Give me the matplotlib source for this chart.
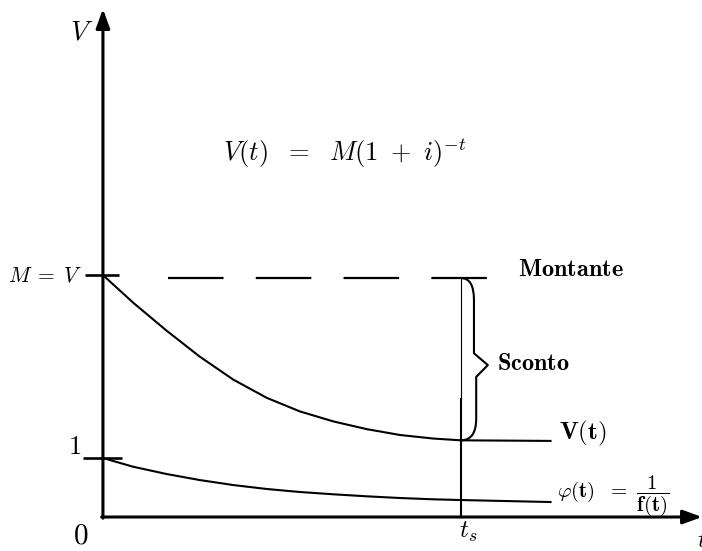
import matplotlib
matplotlib.use("Agg")
import matplotlib.pyplot as plt
from matplotlib.path import Path
from matplotlib.patches import PathPatch

plt.rcParams["mathtext.fontset"] = "cm"
plt.rcParams["font.family"] = ["DejaVu Serif"]

# Present value curve V(t) = M(1+i)^-t, sketched between t = 0 and the end of the plot
t_v = [0.0, 0.68, 1.42, 2.16, 2.91, 3.66, 4.40, 5.15, 5.89, 6.64, 7.38, 8.0, 10.0]
v_vals = [4.10, 3.63, 3.16, 2.72, 2.33, 2.02, 1.79, 1.62, 1.49, 1.39, 1.33, 1.30, 1.29]

# Discount factor phi(t) = 1 / f(t), starting from 1
t_phi = [0.0, 0.67, 1.42, 2.16, 2.91, 3.66, 4.40, 5.15, 5.89, 6.64, 7.38, 8.0, 10.0]
phi_vals = [1.0, 0.853, 0.729, 0.627, 0.542, 0.475, 0.424, 0.385, 0.351, 0.322, 0.300, 0.288, 0.254]

M_value = 4.10          # face value (Montante)
t_s = 8.0               # settlement time
dash_span = (1.45, 8.67)
x_max, y_max = 13.385, 8.61

fig = plt.figure(figsize=(7.02, 5.51), dpi=100)
ax = fig.add_axes([0, 0, 1, 1])
ax.set_xlim(-2.30, 13.385)
ax.set_ylim(-0.576, 8.763)
ax.axis("off")

# axes with arrow heads
arrow = dict(arrowstyle="-|>,head_length=1.15,head_width=0.42", lw=2.2,
             color="black", shrinkA=0, shrinkB=0, mutation_scale=10)
ax.annotate("", xy=(0, y_max), xytext=(0, -0.02), arrowprops=arrow)
ax.annotate("", xy=(x_max, 0), xytext=(-0.03, 0), arrowprops=arrow)

# ticks on the vertical axis
ax.plot([-0.40, 0.36], [M_value, M_value], color="black", lw=1.9, solid_capstyle="butt")
ax.plot([-0.45, 0.42], [1, 1], color="black", lw=1.9, solid_capstyle="butt")

# dashed level of the face value
ax.plot(dash_span, [M_value - 0.05, M_value - 0.05], color="black", lw=1.6,
        dashes=(25, 14.5), solid_capstyle="butt", dash_capstyle="butt")

# curves
ax.plot(t_v, v_vals, color="black", lw=1.5, solid_joinstyle="round")
ax.plot(t_phi, phi_vals, color="black", lw=1.5, solid_joinstyle="round")

# vertical line at t_s
v_at_ts = v_vals[t_v.index(t_s)]
ax.plot([t_s, t_s], [M_value - 0.05, 2.0], color="black", lw=0.8)
ax.plot([t_s, t_s], [2.0, 0], color="black", lw=1.5)

# curly brace for the discount
yt, yb = M_value - 0.05, v_at_ts
ym = (yt + yb) / 2 - 0.1
a, w, c, d = 0.29, 0.60, 0.37, 0.2
verts = [(t_s, yt), (t_s + a, yt), (t_s + a, yt - c),
         (t_s + a, ym + d), (t_s + w, ym), (t_s + a + 0.05, ym - d),
         (t_s + a + 0.05, yb + c), (t_s + a + 0.05, yb), (t_s, yb)]
codes = [Path.MOVETO, Path.CURVE3, Path.CURVE3,
         Path.LINETO, Path.LINETO, Path.LINETO,
         Path.LINETO, Path.CURVE3, Path.CURVE3]
ax.add_patch(PathPatch(Path(verts, codes), fill=False, lw=1.5, color="black",
                       joinstyle="round"))

# labels
ax.text(-0.47, 8.22, r"$V$", fontsize=20, ha="center", va="center")
ax.text(-0.46, M_value, r"$M\;=\;V$", fontsize=15.5, ha="right", va="center")
ax.text(-0.49, 0.99, r"$1$", fontsize=19, ha="right", va="bottom")
ax.text(-0.49, -0.32, r"$0$", fontsize=21, ha="center", va="center")
ax.text(t_s + 0.16, -0.25, r"$t_s$", fontsize=18, ha="center", va="center")
ax.text(13.27, -0.39, r"$t$", fontsize=17, ha="left", va="center")

ax.text(2.68, 6.17, r"$V(t)\ \ =\ \ M(1\ +\ i)^{-t}$", fontsize=19,
        ha="left", va="center")
ax.text(9.27, 4.20, r"$\mathbf{Montante}$", fontsize=17.5, ha="left", va="center")
ax.text(8.80, 2.61, r"$\mathbf{Sconto}$", fontsize=17.5, ha="left", va="center")
ax.text(10.19, 1.42, r"$\mathbf{V(t)}$", fontsize=18, ha="left", va="center")
ax.text(10.15, 0.36, r"$\varphi(\mathbf{t})\ \ =\ \dfrac{\mathbf{1}}{\mathbf{f(t)}}$",
        fontsize=15, ha="left", va="center")

fig.savefig("out.png", dpi=100)
